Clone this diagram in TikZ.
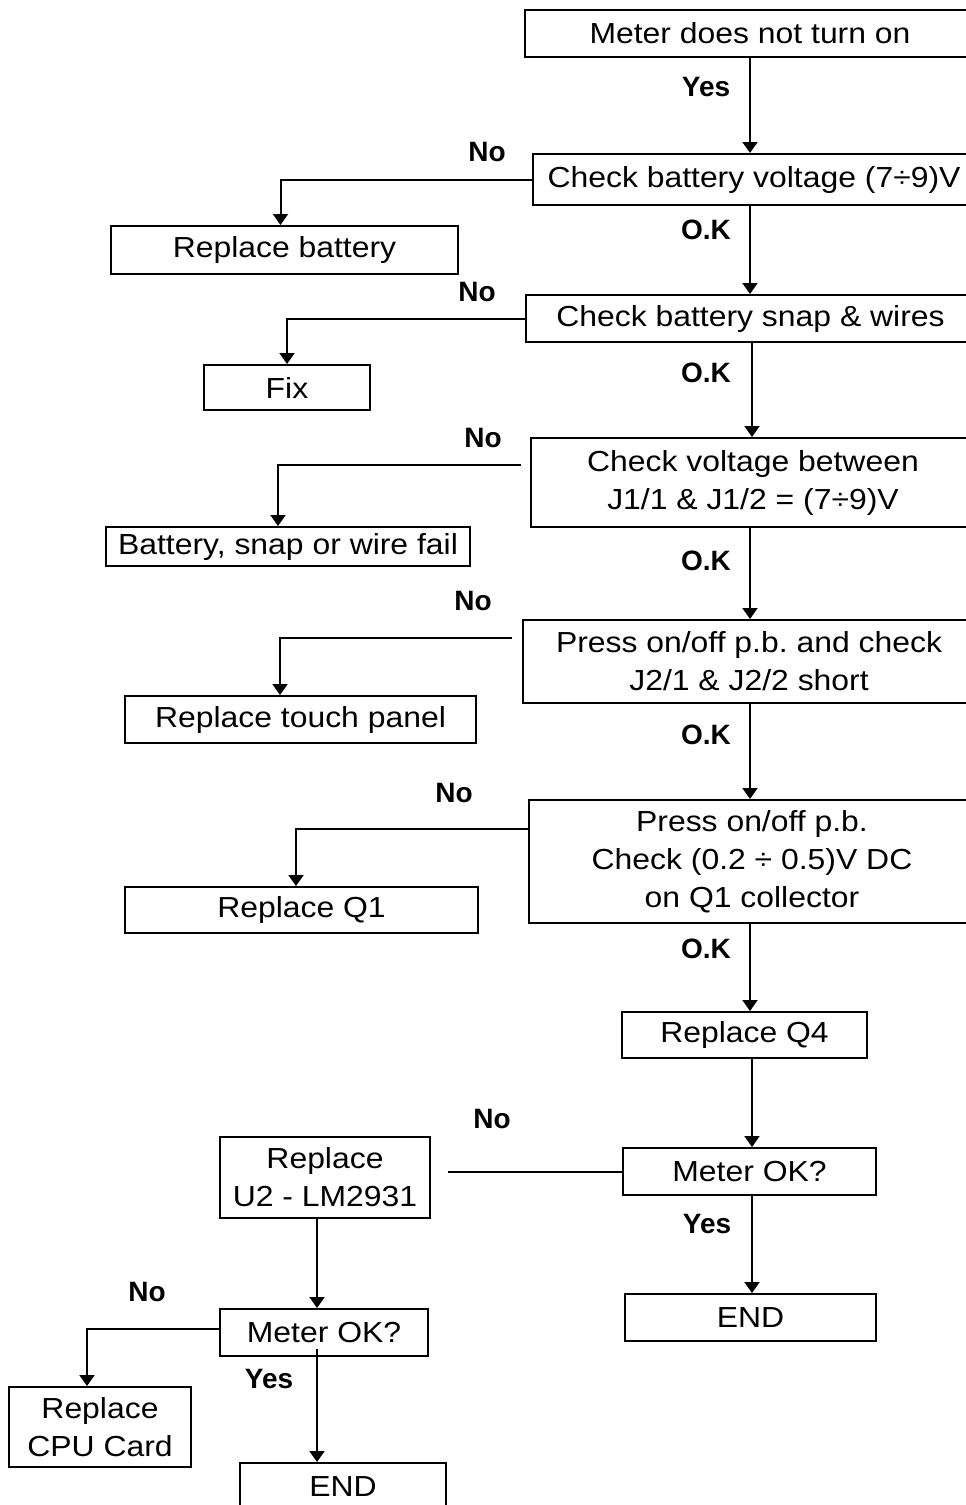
\documentclass[tikz,border=0pt]{standalone}
\usepackage{fontspec}
\setmainfont[FakeStretch=1.1]{Liberation Sans}
\newfontfamily\lblfont{Liberation Sans}
\usepackage{tikz}
\usetikzlibrary{arrows.meta}
\frenchspacing

\begin{document}
\begin{tikzpicture}[x=1pt, y=-1pt, line width=2pt, >={Triangle[width=15pt,length=11pt]}]
        \tikzstyle{b} = [rectangle, draw=black, inner sep=0pt,
                         align=center, font=\fontsize{29}{38}\selectfont]
        \tikzstyle{l} = [inner sep=0pt, font=\lblfont\bfseries\fontsize{28}{32}\selectfont]

        \useasboundingbox (0,0) rectangle (966,1505);
        \clip (0,0) rectangle (966,1505);

        % main column
        \node(start) [b, minimum width=450pt, minimum height=47pt]  at (750,33.5)   {Meter does not turn on};
        \node(batt)  [b, minimum width=442pt, minimum height=51pt]  at (754,179.5)  {Check battery voltage (7÷9)V};
        \node(snap)  [b, minimum width=449pt, minimum height=47pt]  at (750.5,318.5) {Check battery snap \& wires};
        \node(volt)  [b, minimum width=444pt, minimum height=89pt]  at (753,482.5)  {Check voltage between\\J1/1 \& J1/2 = (7÷9)V};
        \node(press) [b, minimum width=452pt, minimum height=83pt]  at (749,661.5)  {Press on/off p.b. and check\\J2/1 \& J2/2 short};
        \node(coll)  [b, minimum width=446pt, minimum height=123pt] at (752,861.5)  {Press on/off p.b.\\Check (0.2 ÷ 0.5)V DC\\on Q1 collector};
        \node(repq4) [b, minimum width=245pt, minimum height=46pt]  at (744.5,1035) {Replace Q4};
        \node(okA)   [b, minimum width=253pt, minimum height=47pt]  at (749.5,1171.5) {Meter OK?};
        \node(endA)  [b, minimum width=251pt, minimum height=47pt]  at (750.5,1317.5) {END};

        % fixes on the left
        \node(repbatt) [b, minimum width=347pt, minimum height=48pt] at (284.5,250)  {Replace battery};
        \node(fix)     [b, minimum width=166pt, minimum height=45pt] at (287,387.5)  {Fix};
        \node(fail)    [b, minimum width=364pt, minimum height=39pt] at (288,546.5)  {Battery, snap or wire fail};
        \node(touch)   [b, minimum width=351pt, minimum height=47pt] at (300.5,719.5) {Replace touch panel};
        \node(repq1)   [b, minimum width=353pt, minimum height=46pt] at (301.5,910)  {Replace Q1};
        \node(repu2)   [b, minimum width=210pt, minimum height=81pt] at (325,1177.5) {Replace\\U2 - LM2931};
        \node(okB)     [b, minimum width=208pt, minimum height=47pt] at (324,1332.5) {Meter OK?};
        \node(cpu)     [b, minimum width=182pt, minimum height=80pt] at (100,1427)   {Replace\\CPU Card};
        \node(endB)    [b, minimum width=206pt, minimum height=47pt] at (343,1486.5) {END};

        % labels
        \node(yes1) [l] at (706,87)   {Yes};
        \node(ok1)  [l] at (706,230)  {O.K};
        \node(ok2)  [l] at (706,373)  {O.K};
        \node(ok3)  [l] at (706,561)  {O.K};
        \node(ok4)  [l] at (706,735)  {O.K};
        \node(ok5)  [l] at (706,949)  {O.K};
        \node(yes2) [l] at (707,1224) {Yes};
        \node(yes3) [l] at (269,1379) {Yes};
        \node(no1)  [l] at (487,152)  {No};
        \node(no2)  [l] at (477,292)  {No};
        \node(no3)  [l] at (483,438)  {No};
        \node(no4)  [l] at (473,601)  {No};
        \node(no5)  [l] at (454,793)  {No};
        \node(no6)  [l] at (492,1119) {No};
        \node(no7)  [l] at (147,1292) {No};

        \draw[->] (start.south) -- (start.south |- batt.north);
        \draw[->] (batt.south -| start) -- (snap.north -| start);
        \draw[->] ([xshift=2pt]snap.south -| start) -- ([xshift=2pt]volt.north -| start);
        \draw[->] (volt.south -| start) -- (press.north -| start);
        \draw[->] (press.south -| start) -- (coll.north -| start);
        \draw[->] (coll.south -| start) -- (repq4.north -| start);
        \draw[->] ([xshift=2pt]repq4.south -| start) -- ([xshift=2pt]okA.north -| start);
        \draw[->] ([xshift=2pt]okA.south -| start) -- ([xshift=2pt]endA.north -| start);

        \draw[->] (batt.west) -| ([xshift=-4pt]repbatt.north);
        \draw[->] (snap.west) -| (fix.north);
        \draw[->] ([xshift=-9pt,yshift=17.5pt]volt.west) -| ([xshift=-10pt]fail.north);
        \draw[->] ([xshift=-10pt,yshift=23.5pt]press.west) -| ([xshift=-20.5pt]touch.north);
        \draw[->] ([yshift=32.5pt]coll.west) -| ([xshift=-5.5pt]repq1.north);
        \draw (okA.west) -- ([xshift=17pt]okA.west -| repu2.east);
        \draw[->] ([xshift=-8pt]repu2.south) -- ([xshift=-8pt]repu2.south |- okB.north);
        \draw[->] ([yshift=3.5pt]okB.west) -| ([xshift=-13pt]cpu.north);
        \draw[->] ([xshift=-7pt,yshift=8pt]okB.south) -- ([xshift=-7pt]okB.south |- endB.north);
\end{tikzpicture}
\end{document}
